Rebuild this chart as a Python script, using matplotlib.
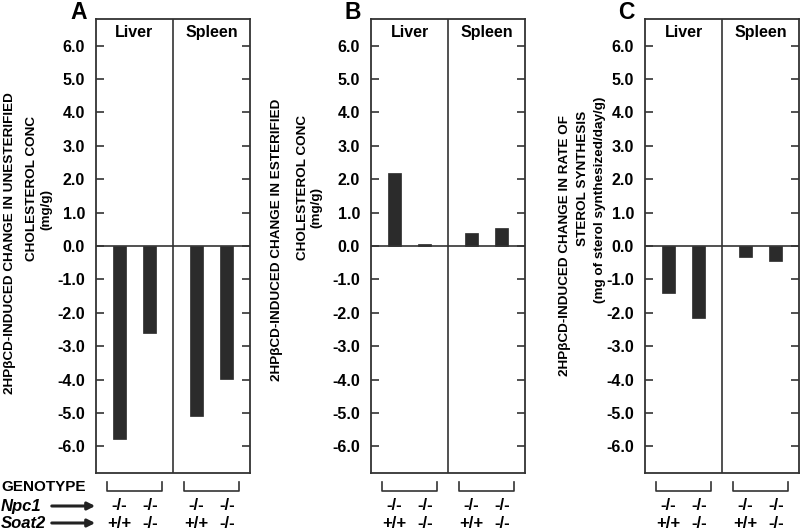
import numpy as np
import matplotlib.pyplot as plt
from matplotlib.patches import FancyArrowPatch

plt.rcParams['font.family'] = ['Liberation Sans', 'DejaVu Sans']
plt.rcParams['font.weight'] = 'bold'

# data
tissues = ['Liver', 'Spleen']
npc1 = ['-/-', '-/-', '-/-', '-/-']
soat2 = ['+/+', '-/-', '+/+', '-/-']
unesterified = [-5.77, -2.6, -5.08, -3.97]
esterified = [2.18, 0.07, 0.38, 0.53]
synthesis = [-1.41, -2.17, -0.34, -0.45]
yticks = np.arange(-6, 7, 1.0)

panel_letters = ['A', 'B', 'C']
ylabels = [
    ['2HP\u03b2CD-INDUCED CHANGE IN UNESTERIFIED', 'CHOLESTEROL CONC', '(mg/g)'],
    ['2HP\u03b2CD-INDUCED CHANGE IN ESTERIFIED', 'CHOLESTEROL CONC', '(mg/g)'],
    ['2HP\u03b2CD-INDUCED CHANGE IN RATE OF', 'STEROL SYNTHESIS',
     '(mg of sterol synthesized/day/g)'],
]
series = [unesterified, esterified, synthesis]

xpos = np.array([0.6, 1.4, 2.6, 3.4])
W, H = 800, 529
fig = plt.figure(figsize=(8, 5.29), dpi=100)

lefts = [96, 371, 645]
ax_w = 154
top, bottom = 19, 473
# label line positions (x pixel, y pixel centre) relative to axes left
lab_x = [[-86, -64, -50], [-94, -68, -55], [-80, -62, -45]]
lab_y = [[243, 188, 210], [240, 187, 207], [245, 178, 200]]
letter_x = [70, 345, 618]

for i in range(3):
    L = lefts[i]
    ax = fig.add_axes([L / W, 1 - bottom / H, ax_w / W, (bottom - top) / H])
    ax.bar(xpos, series[i], width=0.34, color='#2b2b2b', edgecolor='#2b2b2b', linewidth=0.5)
    ax.set_xlim(0, 4)
    ax.set_ylim(-6.8, 6.8)
    ax.axhline(0, color='#333333', lw=1.2)
    ax.axvline(2, color='#333333', lw=1.2)
    ax.set_xticks([])
    ax.set_yticks(yticks)
    ax.set_yticklabels(['%.1f' % v for v in yticks], fontsize=11.5, fontweight='bold')
    ax.tick_params(axis='y', direction='in', length=6, width=1.2, right=True,
                   left=True, labelright=False, pad=8, color='#333333')
    for s in ax.spines.values():
        s.set_linewidth(1.3)
        s.set_color('#333333')
    ax.text(1, 6.4, tissues[0], ha='center', va='center', fontsize=11.5, fontweight='bold')
    ax.text(3, 6.4, tissues[1], ha='center', va='center', fontsize=11.5, fontweight='bold')
    fig.text(letter_x[i] / W, 1 - 19 / H, panel_letters[i], ha='left', va='baseline',
             fontsize=16.5, fontweight='bold')

    # y-axis label lines
    for k in range(3):
        fig.text((L + lab_x[i][k]) / W, 1 - lab_y[i][k] / H, ylabels[i][k], rotation=90,
                 ha='center', va='center', fontsize=9.7, fontweight='bold')

    # brackets and genotype labels
    for g in range(2):
        x0 = xpos[2 * g] - 0.32
        x1 = xpos[2 * g + 1] + 0.32
        xs = [L + x0 * ax_w / 4, L + x0 * ax_w / 4, L + x1 * ax_w / 4, L + x1 * ax_w / 4]
        ys = [482, 491, 491, 482]
        fig.add_artist(plt.Line2D([x / W for x in xs], [1 - y / H for y in ys],
                                  color='#333333', lw=1.2))
    for j in range(4):
        xc = (L + xpos[j] * ax_w / 4) / W
        fig.text(xc, 1 - 506 / H, npc1[j], ha='center', va='center', fontsize=12, fontweight='bold')
        fig.text(xc, 1 - 523 / H, soat2[j], ha='center', va='center', fontsize=12, fontweight='bold')

fig.text(1 / W, 1 - 487 / H, 'GENOTYPE', ha='left', va='center', fontsize=11, fontweight='bold')
fig.text(1 / W, 1 - 506 / H, 'Npc1', ha='left', va='center', fontsize=12,
         fontweight='bold', style='italic')
fig.text(1 / W, 1 - 523 / H, 'Soat2', ha='left', va='center', fontsize=12,
         fontweight='bold', style='italic')
for yy in [506, 523]:
    fig.add_artist(FancyArrowPatch((49 / W, 1 - yy / H), (98 / W, 1 - yy / H),
                                   transform=fig.transFigure, arrowstyle='-|>',
                                   mutation_scale=11, color='#222222', lw=2.2))

fig.savefig('out.png', dpi=100)
